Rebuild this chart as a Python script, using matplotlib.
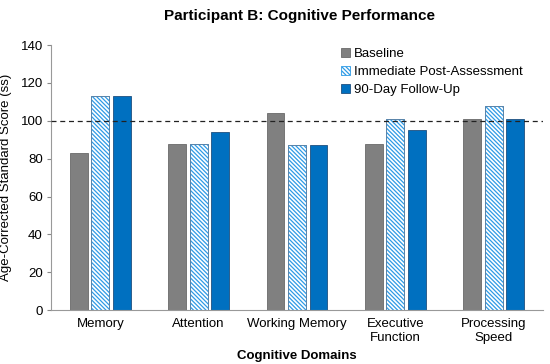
import numpy as np
import matplotlib.pyplot as plt

plt.rcParams['font.family'] = ['Liberation Sans', 'DejaVu Sans']
plt.rcParams['hatch.linewidth'] = 0.9

domains = ['Memory', 'Attention', 'Working Memory', 'Executive\nFunction', 'Processing\nSpeed']
baseline = [83, 88, 104, 88, 101]
post = [113, 88, 87, 101, 108]
followup = [113, 94, 87, 95, 101]

x = np.arange(len(domains))
w = 0.18
step = 0.22

fig = plt.figure(figsize=(5.5, 3.64), dpi=100)
ax = fig.add_axes([0.093, 0.148, 0.894, 0.728])

ax.bar(x - step, baseline, w, color='#808080', edgecolor='#6a6a6a', linewidth=0.6,
       label='Baseline', zorder=2)
ax.bar(x, post, w, color='white', edgecolor='#2e9be6', hatch='\\' * 8,
       linewidth=0.6, label='Immediate Post-Assessment', zorder=2)
ax.bar(x, post, w, color='none', edgecolor='#5f7f9f', linewidth=0.6, zorder=3)
ax.bar(x + step, followup, w, color='#0070c0', edgecolor='#1f4f7f', linewidth=0.6,
       label='90-Day Follow-Up', zorder=2)

ax.axhline(100, color='#222222', linestyle=(0, (4, 3)), linewidth=0.9, zorder=4)

ax.set_ylim(0, 140)
ax.set_yticks(range(0, 141, 20))
ax.set_xlim(-0.5, len(domains) - 0.5)
ax.set_xticks(x)
ax.set_xticklabels(domains, fontsize=9.5)
ax.tick_params(axis='x', length=0, pad=6)
ax.tick_params(axis='y', labelsize=9.5, length=3, color='#888888', pad=3)

for s in ['top', 'right']:
    ax.spines[s].set_visible(False)
for s in ['left', 'bottom']:
    ax.spines[s].set_color('#999999')

ax.set_ylabel('Age-Corrected Standard Score (ss)', fontsize=9.5, labelpad=6)
ax.set_xlabel('Cognitive Domains', fontsize=9.5, fontweight='bold', labelpad=4)
fig.suptitle('Participant B: Cognitive Performance', fontsize=11, fontweight='bold',
             x=0.545, y=0.975)

ax.legend(loc='upper left', bbox_to_anchor=(0.565, 1.035), frameon=False, fontsize=9.5,
          handlelength=0.7, handleheight=0.7, handletextpad=0.3, labelspacing=0.45)

fig.savefig('out.png', dpi=100)
